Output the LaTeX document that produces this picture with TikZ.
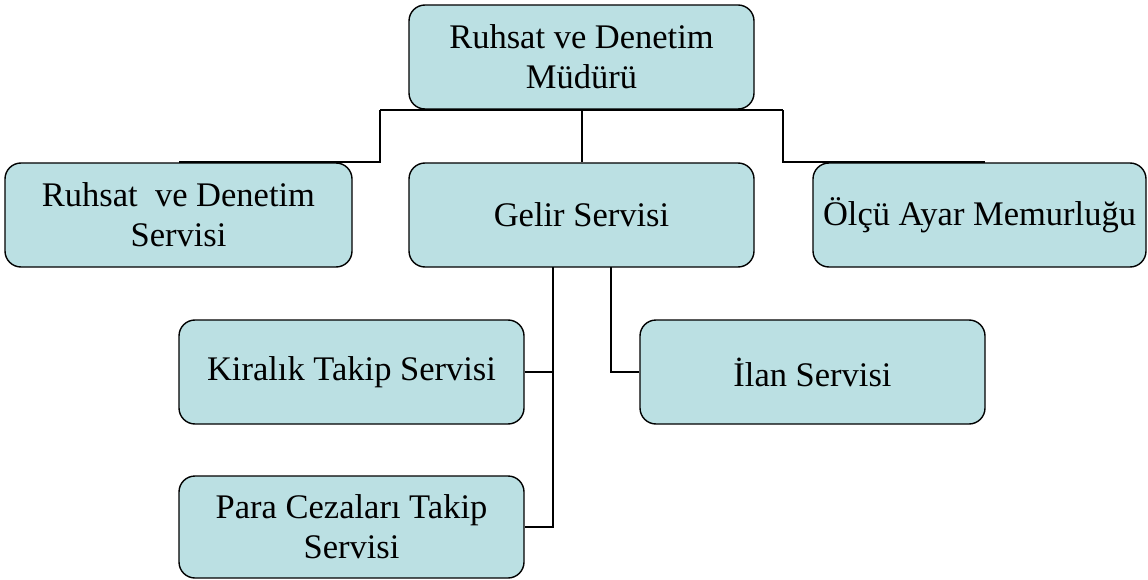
\documentclass[tikz,border=0pt]{standalone}
\usepackage{fontspec}
\setmainfont{Liberation Serif}
\usepackage{xcolor}
\usepackage{tikz}
\usetikzlibrary{calc}

\definecolor{boxfill}{RGB}{187,224,227}

\begin{document}
\begin{tikzpicture}[
  x=1pt, y=-1pt,
  unit/.style={draw, line width=1.4pt, fill=boxfill, rounded corners=16pt,
    minimum width=345pt, minimum height=104pt, inner sep=0pt, align=center,
    font=\fontsize{34.5}{40}\selectfont},
  link/.style={line width=2pt}
]
\useasboundingbox (0,0) rectangle (1148,580);

% top level
\node[unit] (mudur) at (581.5,57) {Ruhsat ve Denetim\\Müdürü};
\node[unit, minimum width=347pt] (ruhsat) at (178.5,215) {Ruhsat\ \ ve Denetim\\Servisi};
\node[unit] (gelir) at (581.5,215) {Gelir Servisi};
\node[unit, minimum width=333pt] (olcu) at (979.5,215) {Ölçü Ayar Memurluğu};

% under Gelir Servisi
\node[unit] (kiralik) at (351.5,372) {Kiralık Takip Servisi};
\node[unit] (ilan) at (812.5,372) {İlan Servisi};
\node[unit, minimum height=102pt] (para) at (351.5,527) {Para Cezaları Takip\\Servisi};

\coordinate (lbend) at (380,110);
\coordinate (rbend) at (783,110);
\coordinate (lend) at (179,162);
\coordinate (rend) at (985,162);
\coordinate (trunk) at (553,267);
\coordinate (side) at (611,267);

\draw[link] (mudur.south) -- (gelir.north);
\draw[link] (lbend) -- (rbend);
\draw[link] (lend) -| (lbend);
\draw[link] (rend) -| (rbend);
\draw[link] (trunk) |- (para.east);
\draw[link] (kiralik.east) -- (kiralik.east -| trunk);
\draw[link] (side) |- (ilan.west);
\end{tikzpicture}
\end{document}
